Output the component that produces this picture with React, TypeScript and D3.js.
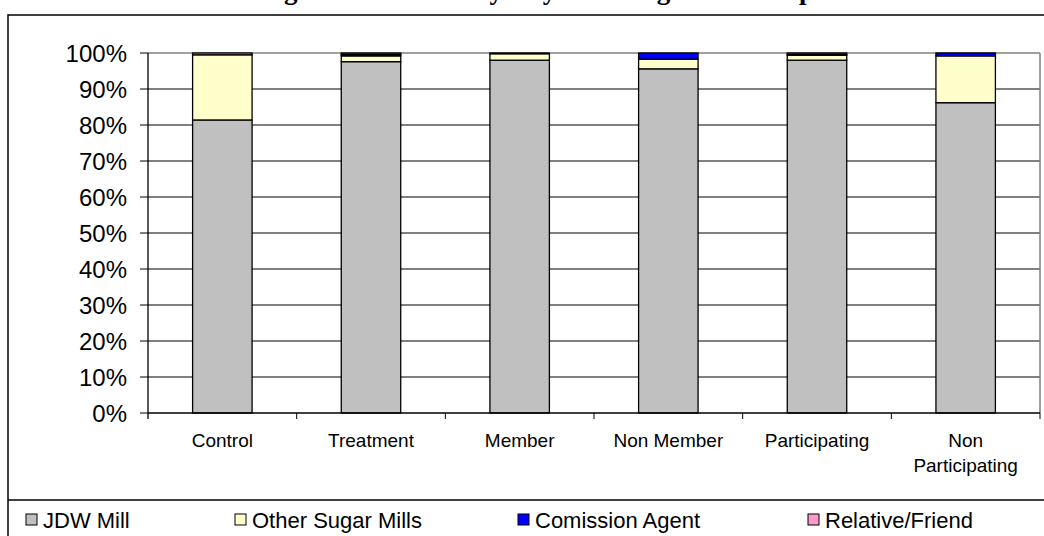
import React from "react";
import * as d3 from "d3";

const categories = ["Control", "Treatment", "Member", "Non Member", "Participating", "Non Participating"];
const seriesNames = ["JDW Mill", "Other Sugar Mills", "Comission Agent", "Relative/Friend"];
const jdwMill = [81.4, 97.6, 98.0, 95.6, 98.0, 86.2];
const otherSugarMills = [18.1, 1.6, 1.8, 2.7, 1.4, 13.0];
const commissionAgent = [0, 0.4, 0, 1.7, 0.2, 0.8];
const relativeFriend = [0.5, 0.4, 0.2, 0, 0.4, 0];
const yTicks = [0, 10, 20, 30, 40, 50, 60, 70, 80, 90, 100];
const colors = ["#C0C0C0", "#FFFFCC", "#0000FF", "#FF99CC"];
const title = "Figure 6.12: Primary Buyers of Sugarcane Crop";

const W = 1044;
const H = 536;
const plotL = 148;
const plotR = 1040;
const plotT = 53;
const plotB = 413;

export default function App() {
  const rows = categories.map((c, i) => ({
    cat: c,
    [seriesNames[0]]: jdwMill[i],
    [seriesNames[1]]: otherSugarMills[i],
    [seriesNames[2]]: commissionAgent[i],
    [seriesNames[3]]: relativeFriend[i],
  }));
  const stacked = d3.stack<any>().keys(seriesNames)(rows);
  const x = d3.scaleBand<string>().domain(categories).range([plotL, plotR]).paddingInner(0.6).paddingOuter(0.3);
  const y = d3.scaleLinear().domain([0, 100]).range([plotB, plotT]);
  const step = x.step();
  const font = "Liberation Sans, Arial, sans-serif";

  const legendX = [26, 235, 518, 808];

  return (
    <div style={{ position: "absolute", left: 0, top: 0 }}>
      <svg width={W} height={H} style={{ display: "block", background: "#fff" }}>
        <text x={537} y={-1} textAnchor="middle" fontFamily="Liberation Serif, Times New Roman, serif" fontWeight="bold" fontSize={27}>
          {title}
        </text>
        {/* outer border */}
        <rect x={8} y={15} width={1050} height={540} fill="none" stroke="#000" strokeWidth={1.5} />
        {/* legend box top */}
        <line x1={8} x2={1058} y1={500} y2={500} stroke="#000" strokeWidth={1.5} />
        {/* gridlines */}
        {yTicks.filter((t) => t > 0 && t < 100).map((t) => (
          <line key={t} x1={plotL} x2={plotR} y1={y(t)} y2={y(t)} stroke="#000" strokeWidth={1} />
        ))}
        <line x1={plotL} x2={plotR} y1={y(100)} y2={y(100)} stroke="#808080" strokeWidth={1.5} />
        <line x1={plotR} x2={plotR} y1={plotT} y2={plotB} stroke="#808080" strokeWidth={1.5} />
        {/* bars */}
        {stacked.map((s, si) =>
          s.map((d, i) => {
            const h = y(d[0]) - y(d[1]);
            if (h <= 0) return null;
            return (
              <rect
                key={si + "-" + i}
                x={x(categories[i])}
                y={y(d[1])}
                width={x.bandwidth()}
                height={h}
                fill={colors[si]}
                stroke="#000"
                strokeWidth={1.3}
              />
            );
          })
        )}
        {/* axes */}
        <line x1={plotL} x2={plotL} y1={plotT} y2={plotB + 6} stroke="#000" strokeWidth={1.3} />
        <line x1={plotL} x2={plotR} y1={plotB} y2={plotB} stroke="#000" strokeWidth={1.3} />
        {yTicks.map((t) => (
          <g key={t}>
            <line x1={plotL - 8} x2={plotL} y1={y(t)} y2={y(t)} stroke="#000" strokeWidth={1} />
            <text x={127} y={y(t)} dy="0.36em" textAnchor="end" fontFamily={font} fontSize={24}>
              {t + "%"}
            </text>
          </g>
        ))}
        {categories.map((c, i) => (
          <line key={"t" + i} x1={plotL + step * (i + 1)} x2={plotL + step * (i + 1)} y1={plotB} y2={plotB + 6} stroke="#000" strokeWidth={1} />
        ))}
        {categories.map((c) => {
          const cx = (x(c) as number) + x.bandwidth() / 2;
          const words = c === "Non Participating" ? ["Non", "Participating"] : [c];
          return (
            <text key={c} x={cx} y={447} textAnchor="middle" fontFamily={font} fontSize={19}>
              {words.map((w, k) => (
                <tspan key={k} x={cx} dy={k === 0 ? 0 : 25}>
                  {w}
                </tspan>
              ))}
            </text>
          );
        })}
        {/* legend */}
        {seriesNames.map((n, i) => (
          <g key={n}>
            <rect x={legendX[i]} y={514} width={11} height={11} fill={colors[i]} stroke="#000" strokeWidth={1} />
            <text x={legendX[i] + 17} y={520} dy="0.36em" fontFamily={font} fontSize={22}>
              {n}
            </text>
          </g>
        ))}
      </svg>
    </div>
  );
}
